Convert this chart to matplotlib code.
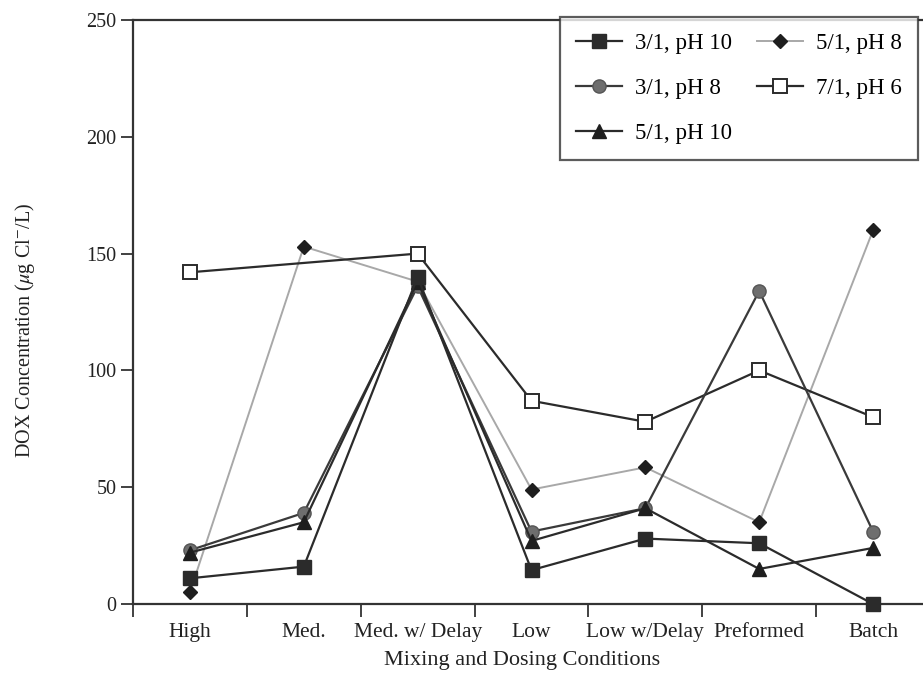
import numpy as np
import matplotlib.pyplot as plt

plt.rcParams['font.family'] = ['Liberation Serif', 'DejaVu Serif']
plt.rcParams['mathtext.fontset'] = 'stix'

# Data
conditions = ["High", "Med.", "Med. w/ Delay", "Low", "Low w/Delay", "Preformed", "Batch"]
r3_ph10 = [11, 16, 140, 14.5, 28, 26, 0]
r3_ph8 = [23, 39, 136, 31, 41, 134, 31]
r5_ph10 = [22, 35, 138, 27, 41, 15, 24]
r5_ph8 = [5, 153, 138, 49, 58.5, 35, 160]
r7_ph6 = [142, np.nan, 150, 87, 78, 100, 80]

fig = plt.figure(figsize=(9.23, 6.80), dpi=100)
# axis runs off the right edge of the picture, as in the scan
ax = fig.add_axes([133 / 923, 1 - 604 / 680, 797 / 923, 584 / 680])

x = np.arange(len(conditions)) + 0.5

def draw(vals, label, **kw):
    v = np.array(vals, dtype=float)
    ok = ~np.isnan(v)
    ax.plot(x[ok], v[ok], label=label, clip_on=False, **kw)

draw(r3_ph10, "3/1, pH 10", color='#2b2b2b', lw=1.6, marker='s', ms=10,
     mfc='#2b2b2b', mec='#2b2b2b', zorder=5)
draw(r3_ph8, "3/1, pH 8", color='#3a3a3a', lw=1.6, marker='o', ms=9.5,
     mfc='#6e6e6e', mec='#555555', zorder=4)
draw(r5_ph10, "5/1, pH 10", color='#2b2b2b', lw=1.6, marker='^', ms=9.5,
     mfc='#1e1e1e', mec='#1e1e1e', zorder=4)
draw(r5_ph8, "5/1, pH 8", color='#a8a8a8', lw=1.4, marker='D', ms=7.5,
     mfc='#1e1e1e', mec='#1e1e1e', zorder=3)
draw(r7_ph6, "7/1, pH 6", color='#2b2b2b', lw=1.6, marker='s', ms=10.5,
     mfc='white', mec='#2b2b2b', mew=1.4, zorder=3)

ax.set_xlim(0, 7)
ax.set_ylim(0, 250)
ax.set_yticks(np.arange(0, 251, 50))
ax.set_xticks(np.arange(0, 7))
ax.set_xticklabels([])
ax.set_xticks(x, minor=True)
ax.set_xticklabels(conditions, minor=True)
ax.tick_params(axis='x', which='minor', length=0, pad=14, labelsize=15.5, colors='#222222')
ax.tick_params(axis='x', which='major', direction='out', length=9, width=1.3, color='#333333')
ax.tick_params(axis='y', direction='out', length=9, width=1.3, color='#333333',
               labelsize=14.5, labelcolor='#222222', pad=3)

for s in ax.spines.values():
    s.set_linewidth(1.6)
    s.set_color('#333333')

ax.set_xlabel("Mixing and Dosing Conditions", fontsize=16, color='#222222')
ax.xaxis.set_label_coords((522 - 133) / 797, -(661 - 604) / 584, transform=ax.transAxes)
ax.xaxis.label.set_va('center')
ax.set_ylabel(r"DOX Concentration ($\mu$g Cl$^{-}$/L)", fontsize=14.5, color='#222222')
ax.yaxis.set_label_coords(-(133 - 25) / 797, (604 - 330) / 584, transform=ax.transAxes)
ax.yaxis.label.set_va('center')

leg = ax.legend(ncol=2, loc='upper right', bbox_to_anchor=(918 / 923, 1 - 17 / 680),
                bbox_transform=fig.transFigure, borderaxespad=0, fontsize=16.5,
                frameon=True, fancybox=False, handlelength=2.0, handletextpad=0.57,
                columnspacing=1.1, labelspacing=1.05, borderpad=0.7)
leg.get_frame().set_edgecolor('#333333')
leg.get_frame().set_linewidth(1.6)
leg.set_zorder(10)

fig.savefig("out.png", dpi=100)
